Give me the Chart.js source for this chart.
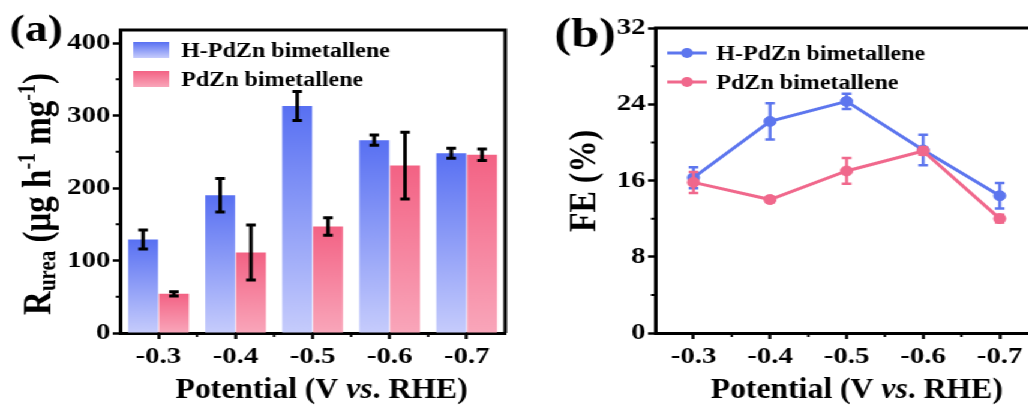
<!DOCTYPE html>
<html>
<head>
<meta charset="utf-8">
<script src="https://cdn.jsdelivr.net/npm/chart.js@4.4.0/dist/chart.umd.min.js"></script>
<style>
html, body { margin: 0; padding: 0; background: #fff; overflow: hidden; width: 1028px; height: 407px; }
/* the source figure is stretched horizontally, so the whole page is too */
#wrap { position: absolute; left: 0; top: 0; width: 900px; height: 407px; transform: scaleX(1.2); transform-origin: 0 0; }
#chartA { position: absolute; left: 0; top: 0; }
#chartB { position: absolute; left: 433px; top: 0; }
</style>
</head>
<body>
<div id="wrap">
  <canvas id="chartA" width="433" height="407"></canvas>
  <canvas id="chartB" width="450" height="407"></canvas>
</div>
<script>
// data
const categories = ['-0.3', '-0.4', '-0.5', '-0.6', '-0.7'];

const rateH = [129, 190, 313, 266, 248];
const rateHErr = [13, 23, 20, 7, 7];
const rateP = [54, 111, 147, 231, 246];
const ratePErr = [3, 38, 12, 46, 8];
const rateTicks = [0, 100, 200, 300, 400];
const rateMinor = [50, 150, 250, 350];

const feH = [16.3, 22.2, 24.3, 19.2, 14.4];
const feHErr = [1.1, 1.9, 0.8, 1.6, 1.35];
const feP = [15.8, 14.0, 17.0, 19.1, 12.0];
const fePErr = [1.1, 0.3, 1.35, 0.4, 0.4];
const feTicks = [0, 8, 16, 24, 32];
const feMinor = [4, 12, 20, 28];

const seriesNames = ['H-PdZn bimetallene', 'PdZn bimetallene'];

const FAMILY = '"Liberation Serif", "Times New Roman", serif';
const blueTop = 'rgb(88,112,242)', blueBottom = 'rgb(198,204,252)';
const redTop = 'rgb(243,98,132)', redBottom = 'rgb(249,166,186)';
const blueLine = 'rgb(93,118,238)', redLine = 'rgb(240,104,140)';

Chart.defaults.font.family = FAMILY;
Chart.defaults.font.weight = 'bold';
Chart.defaults.color = '#000';

function fontOf(size, italic) {
    return (italic ? 'italic ' : '') + 'bold ' + size + 'px ' + FAMILY;
}

// draws [text, size, dy, italic] pieces along one baseline
function drawRich(ctx, parts, x, y, center) {
    const widths = parts.map(p => { ctx.font = fontOf(p[1], p[3]); return ctx.measureText(p[0]).width; });
    let cx = center ? x - widths.reduce((a, b) => a + b, 0) / 2 : x;
    parts.forEach((p, i) => {
        ctx.font = fontOf(p[1], p[3]);
        ctx.fillText(p[0], cx, y + (p[2] || 0));
        cx += widths[i];
    });
}

// x axis title, a little condensed like the source
function drawXTitle(ctx, x, y) {
    ctx.save();
    ctx.translate(x, y);
    ctx.scale(0.88, 1);
    drawRich(ctx, [['Potential (V ', 30], ['vs', 30, 0, true], ['. RHE)', 30]], 0, 0, true);
    ctx.restore();
}

function barFill(top, bottom) {
    return c => {
        const chart = c.chart;
        if (!chart.chartArea || c.type !== 'data') return top;
        const y = chart.scales.y;
        const g = chart.ctx.createLinearGradient(0, y.getPixelForValue(c.parsed.y), 0, y.getPixelForValue(0));
        g.addColorStop(0, top);
        g.addColorStop(1, bottom);
        return g;
    };
}

// error bars, drawn right after each dataset
const errorBars = {
    id: 'errorBars',
    afterDatasetDraw(chart, args) {
        const ds = chart.data.datasets[args.index];
        if (!ds.err) return;
        const ctx = chart.ctx, y = chart.scales.y;
        ctx.save();
        ctx.strokeStyle = ds.errColor;
        ctx.lineWidth = ds.errWidth;
        ctx.beginPath();
        args.meta.data.forEach((el, i) => {
            const top = y.getPixelForValue(ds.data[i] + ds.err[i]);
            const bot = y.getPixelForValue(ds.data[i] - ds.err[i]);
            ctx.moveTo(el.x, top); ctx.lineTo(el.x, bot);
            ctx.moveTo(el.x - ds.errCap, top); ctx.lineTo(el.x + ds.errCap, top);
            ctx.moveTo(el.x - ds.errCap, bot); ctx.lineTo(el.x + ds.errCap, bot);
        });
        ctx.stroke();
        ctx.restore();
    }
};

// minor ticks and the top/right frame
const frame = {
    id: 'frame',
    afterDraw(chart, args, opts) {
        const ctx = chart.ctx, a = chart.chartArea, x = chart.scales.x, y = chart.scales.y;
        ctx.save();
        ctx.strokeStyle = '#000';
        ctx.lineWidth = 2;
        ctx.beginPath();
        (opts.minor || []).forEach(v => {
            const py = y.getPixelForValue(v);
            ctx.moveTo(a.left, py); ctx.lineTo(a.left - 3.5, py);
        });
        for (let i = 0; i < categories.length - 1; i++) {
            const px = (x.getPixelForValue(i) + x.getPixelForValue(i + 1)) / 2;
            ctx.moveTo(px, a.bottom); ctx.lineTo(px, a.bottom + 4);
        }
        ctx.stroke();
        ctx.lineWidth = 3;
        ctx.beginPath();
        ctx.moveTo(a.left - 1, a.top); ctx.lineTo(a.right, a.top); ctx.lineTo(a.right, a.bottom);
        ctx.stroke();
        ctx.restore();
    }
};

function axisScales(yTicks, yMax, yWidth) {
    const grid = { drawOnChartArea: false, drawTicks: true, tickLength: 6, tickWidth: 2.5, tickColor: '#000', offset: false };
    return {
        x: {
            offset: true,
            grid: grid,
            border: { display: true, color: '#000', width: 3 },
            ticks: { color: '#000', font: { size: 24, weight: 'bold' }, padding: 3, maxRotation: 0 },
            afterFit: s => { s.height = 407 - 333; }
        },
        y: {
            min: 0, max: yMax,
            grid: grid,
            border: { display: true, color: '#000', width: 3 },
            ticks: { color: '#000', font: { size: 24, weight: 'bold' }, padding: 2 },
            afterBuildTicks: s => { s.ticks = yTicks.map(v => ({ value: v })); },
            afterFit: s => { s.width = yWidth; }
        }
    };
}

// panel (a)
new Chart(document.getElementById('chartA'), {
    type: 'bar',
    data: {
        labels: categories,
        datasets: [
            { label: seriesNames[0], data: rateH, err: rateHErr, errColor: '#000', errWidth: 3, errCap: 4,
              backgroundColor: barFill(blueTop, blueBottom), categoryPercentage: 0.8, barPercentage: 0.97 },
            { label: seriesNames[1], data: rateP, err: ratePErr, errColor: '#000', errWidth: 3, errCap: 4,
              backgroundColor: barFill(redTop, redBottom), categoryPercentage: 0.8, barPercentage: 0.97 }
        ]
    },
    options: {
        responsive: false,
        animation: false,
        layout: { padding: { top: 30, right: 12, left: 0, bottom: 0 } },
        plugins: { legend: { display: false }, tooltip: { enabled: false }, frame: { minor: rateMinor } },
        scales: axisScales(rateTicks, 418, 100)
    },
    plugins: [errorBars, frame, {
        id: 'decoA',
        afterDraw(chart) {
            const ctx = chart.ctx;
            ctx.save();
            ctx.fillStyle = '#000';
            ctx.textBaseline = 'alphabetic';
            drawRich(ctx, [['(a)', 38]], 8, 41);
            drawXTitle(ctx, 268, 398);
            ctx.save();
            ctx.translate(42, 194);
            ctx.rotate(-Math.PI / 2);
            drawRich(ctx, [['R', 33], ['urea', 21, 4], [' (μg h', 33], ['-1', 20, -13], [' mg', 33], ['-1', 20, -13], [')', 33]], 0, 0, true);
            ctx.restore();
            // legend
            [[blueTop, blueBottom, 42], [redTop, redBottom, 71]].forEach((r, i) => {
                const g = ctx.createLinearGradient(0, r[2], 0, r[2] + 16);
                g.addColorStop(0, r[0]); g.addColorStop(1, r[1]);
                ctx.fillStyle = g;
                ctx.fillRect(111, r[2], 30, 16);
                ctx.fillStyle = '#000';
                drawRich(ctx, [[seriesNames[i], 20]], 151, r[2] + 15);
            });
            ctx.restore();
        }
    }]
});

// panel (b)
new Chart(document.getElementById('chartB'), {
    type: 'line',
    data: {
        labels: categories,
        datasets: [
            { label: seriesNames[0], data: feH, err: feHErr, errColor: blueLine, errWidth: 2.5, errCap: 4, order: 1,
              borderColor: blueLine, backgroundColor: blueLine, borderWidth: 3, pointRadius: 5, pointBorderWidth: 1 },
            { label: seriesNames[1], data: feP, err: fePErr, errColor: redLine, errWidth: 2.5, errCap: 4, order: 0,
              borderColor: redLine, backgroundColor: redLine, borderWidth: 3, pointRadius: 5, pointBorderWidth: 1 }
        ]
    },
    options: {
        responsive: false,
        animation: false,
        layout: { padding: { top: 28, right: 18, left: 0, bottom: 0 } },
        plugins: { legend: { display: false }, tooltip: { enabled: false }, frame: { minor: feMinor } },
        scales: axisScales(feTicks, 32, 113)
    },
    plugins: [errorBars, frame, {
        id: 'decoB',
        afterDraw(chart) {
            const ctx = chart.ctx;
            ctx.save();
            ctx.fillStyle = '#000';
            ctx.textBaseline = 'alphabetic';
            drawRich(ctx, [['(b)', 42]], 29, 47);
            drawXTitle(ctx, 281, 398);
            ctx.save();
            ctx.translate(63, 181);
            ctx.rotate(-Math.PI / 2);
            drawRich(ctx, [['FE (%)', 32]], 0, 0, true);
            ctx.restore();
            // legend
            [[blueLine, 53], [redLine, 82]].forEach((r, i) => {
                ctx.strokeStyle = r[0];
                ctx.fillStyle = r[0];
                ctx.lineWidth = 3;
                ctx.beginPath();
                ctx.moveTo(123, r[1]); ctx.lineTo(156, r[1]);
                ctx.stroke();
                ctx.beginPath();
                ctx.arc(139.5, r[1], 5, 0, Math.PI * 2);
                ctx.fill();
                ctx.fillStyle = '#000';
                drawRich(ctx, [[seriesNames[i], 20]], 164, r[1] + 7);
            });
            ctx.restore();
        }
    }]
});
</script>
</body>
</html>
